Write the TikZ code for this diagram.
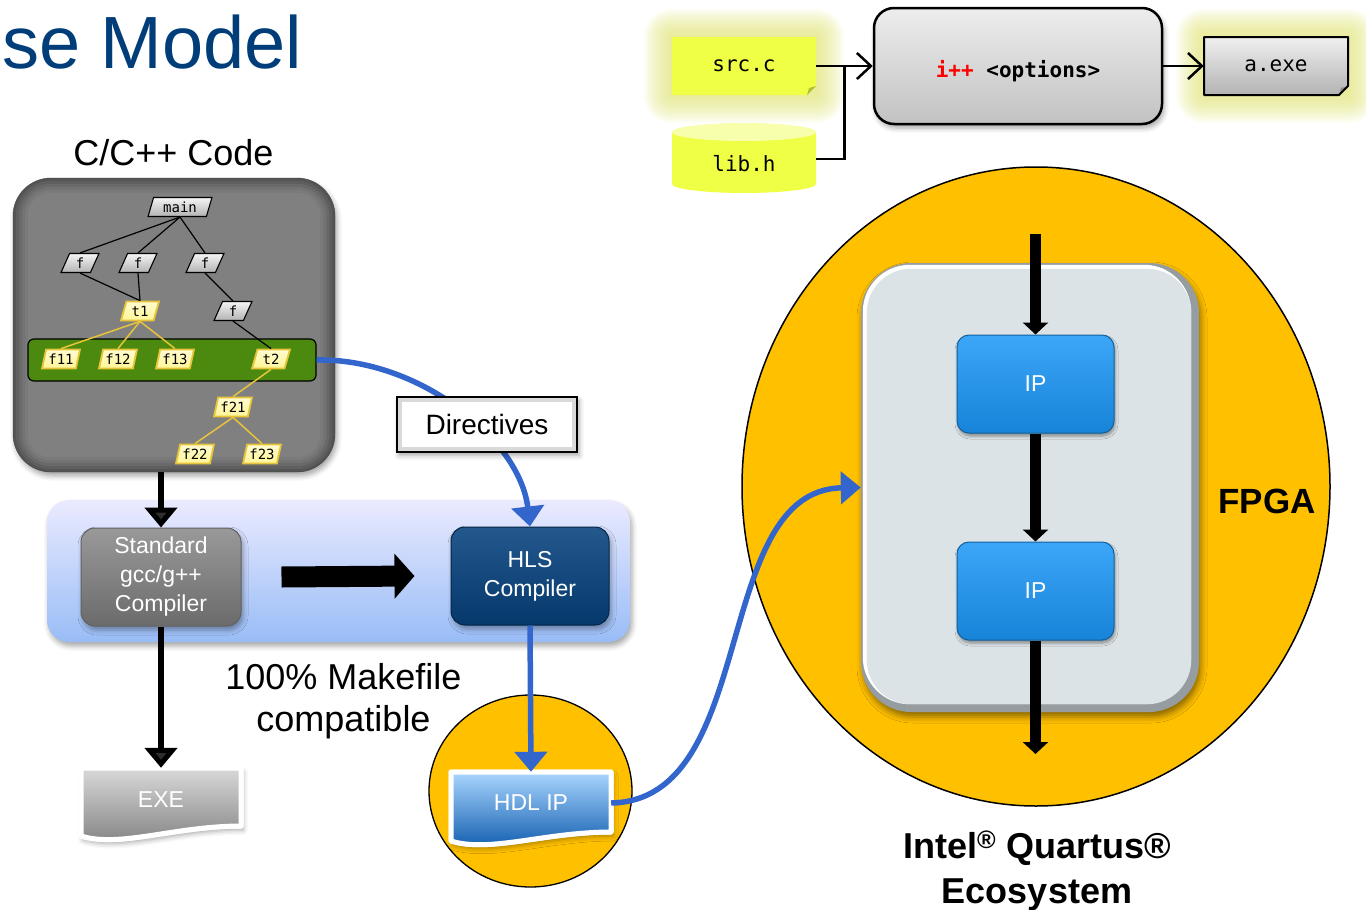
\documentclass[tikz,border=0pt]{standalone}
\usepackage{fontspec}
\setmainfont{Liberation Sans}
\setmonofont{DejaVu Sans Mono}
\usetikzlibrary{arrows.meta,shapes.geometric,shadows.blur,calc}
\newcommand\fsz[2]{\fontsize{#1}{#2}\selectfont}
\definecolor{titleblue}{RGB}{0,61,121}
\definecolor{fpgay}{RGB}{255,192,0}
\definecolor{linkblue}{RGB}{51,102,204}
\definecolor{barGreen}{RGB}{75,138,14}
\definecolor{noteYellow}{RGB}{238,255,70}
\definecolor{glowc}{RGB}{222,226,110}
\definecolor{treeGold}{RGB}{232,196,58}
\definecolor{tyellow}{RGB}{255,246,150}
\definecolor{ipblue}{RGB}{26,150,246}
\definecolor{boxgray}{RGB}{220,227,230}
\definecolor{boxedge}{RGB}{150,157,161}
\definecolor{hlsblue}{RGB}{6,66,126}
\begin{document}
\begin{tikzpicture}[x=1pt,y=-1pt,
  every node/.style={inner sep=0pt},
  softshadow/.style={blur shadow={shadow xshift=2pt,shadow yshift=-4pt,shadow blur radius=5pt,shadow opacity=35}},
  gnode/.style={trapezium, trapezium left angle=72, trapezium right angle=108,
    trapezium stretches=true, draw=black, line width=1.1pt,
    top color=white!96!black, bottom color=black!30,
    minimum height=19pt, minimum width=38pt, font=\ttfamily\fsz{14}{16}},
  ynode/.style={gnode, draw=treeGold, line width=1.8pt,
    top color=white!55!tyellow, bottom color=tyellow},
  tline/.style={line width=1.2pt},
  yline/.style={treeGold, line width=1.5pt},
  openarrow/.style={line width=2.5pt, -{Straight Barb[length=14pt,width=26pt]}},
  blackarrow/.style={line width=6pt, -{Triangle[length=20pt,width=32pt]}},
  linkarrow/.style={draw=linkblue, line width=5.5pt, -{Triangle[length=20pt,width=32pt]}},
  ipflow/.style={line width=11pt, -{Triangle[length=12pt,width=25pt]}},
  ipbox/.style={rounded corners=12pt, top color=ipblue!85!white, middle color=ipblue,
    bottom color=ipblue!88!black, draw=ipblue!65!black, line width=1pt,
    text=white, font=\fsz{23}{26}, minimum width=157pt, minimum height=98pt,
    blur shadow={shadow xshift=1pt,shadow yshift=-3pt,shadow blur radius=3pt,shadow opacity=40}},
  whitetext/.style={text=white, align=center, font=\fsz{23}{29}},
  monotext/.style={font=\ttfamily\fsz{21}{24}}
]
\useasboundingbox (0,0) rectangle (1366,910);

% ---------- title ----------
\node[anchor=base west, text=titleblue, font=\fsz{74}{80}] (title) at (2,68) {se Model};

% ---------- command line: sources -> i++ -> a.exe ----------
\foreach \g in {2,4,...,28} {
  \fill[glowc, opacity=0.075, rounded corners=\g pt] (672-\g,37-\g) rectangle (816+\g,95+\g);
  \fill[glowc, opacity=0.075, rounded corners=\g pt] (1204-\g,37-\g) rectangle (1348+\g,95+\g);
}
\fill[noteYellow] (672,37) -- (816,37) -- (816,86) -- (807,95) -- (672,95) -- cycle;
\fill[noteYellow!75!black] (807,95) -- (809,88) -- (816,86) -- cycle;
\node[monotext, minimum width=144pt, minimum height=58pt] (src) at (744,66) {src.c};

\fill[noteYellow] (672,132) -- (672,184) arc[start angle=180, end angle=0, x radius=72, y radius=9] -- (816,132) -- cycle;
\fill[noteYellow!45!white] (744,132) ellipse[x radius=72, y radius=9];
\node[monotext, minimum width=144pt, minimum height=70pt, text height=24pt, text depth=0pt] (lib) at (744,159) {lib.h};

\node[draw=black, line width=2.5pt, rounded corners=20pt, top color=white!93!black,
  bottom color=black!24, minimum width=288pt, minimum height=116pt,
  text height=24pt, text depth=1pt,
  font=\ttfamily\bfseries\fsz{21}{24}, softshadow] (ipp) at (1018,66)
  {\textcolor{red}{i++} <options>};

\shade[top color=white!94!black, bottom color=black!30] (1204,37) -- (1348,37) -- (1348,86) -- (1339,95) -- (1204,95) -- cycle;
\fill[black!45] (1339,95) -- (1341,88) -- (1348,86) -- cycle;
\draw[line width=2pt, line join=round] (1204,37) -- (1348,37) -- (1348,86) -- (1339,95) -- (1204,95) -- cycle;
\node[monotext, minimum width=144pt, minimum height=58pt] (aexe) at (1276,66) {a.exe};

\coordinate (join) at ($(src.east)!0.5!(ipp.west)$);
\draw[openarrow] (src.east) -- (ipp.west);
\draw[line width=2.5pt] (lib.east) -| (join);
\draw[openarrow] (ipp.east) -- (aexe.west);

% ---------- FPGA ----------
\node[ellipse, draw=black, line width=1.5pt, fill=fpgay, minimum width=588pt, minimum height=639pt] (fpga) at (1036,486.5) {};
\node[fill=boxedge, rounded corners=50pt, minimum width=338pt, minimum height=449pt,
  blur shadow={shadow xshift=2pt,shadow yshift=-5pt,shadow blur radius=6pt,shadow opacity=45}] (fbox) at (1030,487.5) {};
\fill[white, rounded corners=47pt] ($(fbox.north west)+(2,2)$) rectangle ($(fbox.south east)+(-8,-8)$);
\fill[boxgray, rounded corners=44pt] ($(fbox.north west)+(6,6)$) rectangle ($(fbox.south east)+(-8,-8)$);
\node[ipbox] (ip1) at (1035.5,384) {IP};
\node[ipbox] (ip2) at (1035.5,591) {IP};
\coordinate (fin) at (1035.5,234);
\coordinate (fout) at (1035.5,754);
\draw[ipflow] (fin) -- (ip1.north);
\draw[ipflow] (ip1.south) -- (ip2.north);
\draw[ipflow] (ip2.south) -- (fout);
\node[anchor=base, font=\bfseries\fsz{35}{40}] (fpgalbl) at (1267,513) {FPGA};

\node[anchor=base, font=\bfseries\fsz{36}{44}] (eco1) at (1037,858) {Intel\textsuperscript{®} Quartus®};
\node[anchor=base, font=\bfseries\fsz{36}{44}] (eco2) at (1037,903) {Ecosystem};

% ---------- C/C++ code ----------
\node[anchor=base, font=\fsz{36}{40}] (codelbl) at (173.5,165) {C/C++ Code};
\node[draw=black!75, fill=black!67, rounded corners=38pt, minimum width=322pt,
  minimum height=294pt, softshadow] (code) at (174,325) {};
\foreach \i/\c/\r in {3/63/35,6/59/32,9/55/29,12/52/26,15/50/23} {
  \fill[black!\c, rounded corners=\r pt] ($(code.north west)+(\i,\i)$) rectangle ($(code.south east)+(-\i,-\i)$);
}
\node[draw=black, line width=1.2pt, fill=barGreen, rounded corners=6pt,
  minimum width=288pt, minimum height=42pt] (bar) at (172,360) {};

\node[gnode, minimum width=64pt] (main) at (180,207) {main};
\node[gnode] (fa) at (80,263) {f};
\node[gnode] (fb) at (138,263) {f};
\node[gnode] (fc) at (205,263) {f};
\node[gnode] (fd) at (233,311) {f};
\node[ynode] (t1) at (140,311) {t1};
\node[ynode] (f11) at (61,359) {f11};
\node[ynode] (f12) at (118,359) {f12};
\node[ynode] (f13) at (175,359) {f13};
\node[ynode] (t2) at (271,359) {t2};
\node[ynode] (f21) at (233,407) {f21};
\node[ynode] (f22) at (195,454) {f22};
\node[ynode] (f23) at (262,454) {f23};

\draw[tline] (main.south) -- (fa.north);
\draw[tline] (main.south) -- (fb.north);
\draw[tline] (main.south) -- (fc.north);
\draw[tline] (fa.south) -- (t1.north);
\draw[tline] (fb.south) -- (t1.north);
\draw[tline] (fc.south) -- (fd.north);
\draw[tline] (fd.south) -- (t2.north);
\draw[yline] (t1.south) -- (f11.north);
\draw[yline] (t1.south) -- (f12.north);
\draw[yline] (t1.south) -- (f13.north);
\draw[yline] (t2.south) -- (f21.north);
\draw[yline] (f21.south) -- (f22.north);
\draw[yline] (f21.south) -- (f23.north);

% ---------- compilers ----------
\node[rounded corners=22pt, top color=blue!8!white, bottom color={rgb,255:red,153;green,188;blue,246},
  minimum width=583pt, minimum height=142pt, softshadow] (band) at (338.5,571) {};
\node[whitetext, rounded corners=14pt, top color=black!40, bottom color=black!58,
  draw=black!62, line width=1pt, minimum width=160pt, minimum height=98pt, softshadow]
  (std) at (161,577) {Standard\\gcc/g++\\Compiler};
\node[whitetext, rounded corners=14pt, top color=hlsblue!88!white, bottom color=hlsblue!85!black,
  draw=hlsblue!55!black, line width=1pt, minimum width=158pt, minimum height=98pt, softshadow]
  (hls) at (530,576) {HLS\\Compiler};
\draw[line width=21pt, -{Triangle[length=20pt,width=44pt]}] ([xshift=40pt]std.east) -- ([xshift=-36pt]hls.west);

\node[anchor=base, font=\fsz{36}{44}] (mk1) at (343.5,689) {100\% Makefile};
\node[anchor=base, font=\fsz{36}{44}] (mk2) at (343.5,731) {compatible};

% ---------- outputs ----------
\node[ellipse, draw=black, line width=1.3pt, fill=fpgay, minimum width=203pt, minimum height=192pt] (hdlc) at (530.5,791) {};

\draw[white, line width=5pt, line join=round, softshadow] (81,768) -- (241,768) -- (241,826) .. controls (175,826) and (120,848) .. (81,836) -- cycle;
\shade[top color=black!15, bottom color=black!50] (81,768) -- (241,768) -- (241,826) .. controls (175,826) and (120,848) .. (81,836) -- cycle;
\draw[white, line width=5pt, line join=round] (81,768) -- (241,768) -- (241,826) .. controls (175,826) and (120,848) .. (81,836) -- cycle;
\node[whitetext, minimum width=160pt, minimum height=64pt] (exe) at (161,800) {EXE};

\draw[white, line width=5pt, line join=round, softshadow] (451,772) -- (611,772) -- (611,832) .. controls (545,832) and (490,853) .. (451,841) -- cycle;
\shade[top color={rgb,255:red,170;green,214;blue,255}, middle color={rgb,255:red,40;green,150;blue,255}, bottom color={rgb,255:red,8;green,86;blue,170}] (451,772) -- (611,772) -- (611,832) .. controls (545,832) and (490,853) .. (451,841) -- cycle;
\draw[white, line width=5pt, line join=round] (451,772) -- (611,772) -- (611,832) .. controls (545,832) and (490,853) .. (451,841) -- cycle;
\node[whitetext, minimum width=160pt, minimum height=62pt] (hdl) at (531,803) {HDL IP};

% ---------- connectors ----------
\draw[blackarrow] (code.south -| std.north) -- (std.north);
\draw[blackarrow] (std.south) -- (exe.north);
\draw[linkarrow] (bar.east) .. controls (420,358) and (520,440) .. (hls.north);
\draw[linkarrow] (hls.south) -- (hdl.north);
\draw[linkarrow] (hdl.east) .. controls (760,800) and (710,490) .. (fbox.west);

\node[draw=black, line width=2pt, fill=white, minimum width=180pt, minimum height=55pt,
  font=\fsz{28}{32}, softshadow] (dir) at (487,424) {Directives};
\draw[black!15, line width=4pt] ($(dir.north west)+(4,4)$) rectangle ($(dir.south east)+(-4,-4)$);
\end{tikzpicture}
\end{document}
